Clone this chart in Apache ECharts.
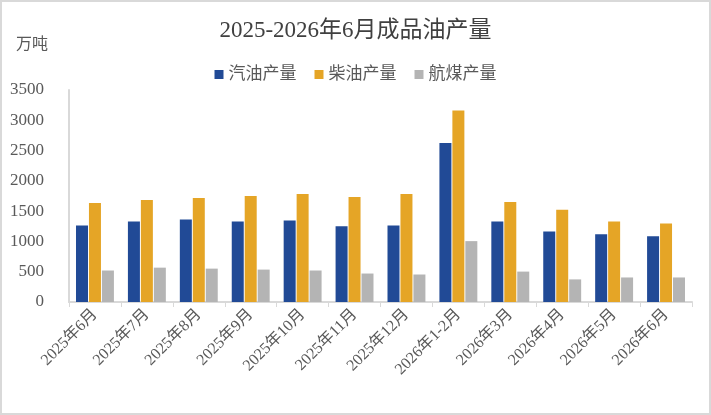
<!DOCTYPE html>
<html><head><meta charset="utf-8">
<script src="https://cdn.jsdelivr.net/npm/echarts@6/dist/echarts.min.js"></script>
<style>html,body{margin:0;padding:0;background:#fff}#c{width:711px;height:415px;box-sizing:border-box;border:2px solid #d9d9d9}</style>
</head><body><div id="c"></div>
<script>
const categories = ['2025年6月','2025年7月','2025年8月','2025年9月','2025年10月','2025年11月','2025年12月','2026年1-2月','2026年3月','2026年4月','2026年5月','2026年6月'];
const gasoline = [1265,1330,1360,1330,1345,1250,1265,2625,1330,1165,1120,1085];
const diesel = [1635,1685,1718,1750,1783,1735,1783,3160,1653,1523,1330,1297];
const jetFuel = [520,567,551,535,520,470,454,1005,502,373,405,405];
const seriesNames = ['汽油产量','柴油产量','航煤产量'];
const fontF = '"Liberation Serif","Noto Sans CJK SC",serif';
const chart = echarts.init(document.getElementById('c'));
chart.setOption({
  animation:false,
  title:{text:'2025-2026年6月成品油产量',left:'center',top:12,textStyle:{fontFamily:fontF,fontSize:23,fontWeight:'normal',color:'#404040'}},
  graphic:[{type:'text',left:14,top:33,style:{text:'万吨',font:'16px "Noto Sans CJK SC"',fill:'#595959'}}],
  legend:{top:59,left:'center',itemWidth:9,itemHeight:9,itemGap:18,icon:'rect',textStyle:{fontFamily:fontF,fontSize:17,color:'#595959'}},
  grid:{left:67,right:17,top:88,bottom:111},
  xAxis:{type:'category',data:categories,
    axisLine:{lineStyle:{color:'#d9d9d9',width:2}},
    axisTick:{show:true,lineStyle:{color:'#d9d9d9'},length:5},
    axisLabel:{rotate:45,interval:0,fontFamily:fontF,fontSize:16,color:'#595959',margin:10}},
  yAxis:{type:'value',min:0,max:3500,interval:500,
    axisLine:{show:true,lineStyle:{color:'#d9d9d9',width:2}},
    splitLine:{show:false},
    axisLabel:{fontFamily:fontF,fontSize:17,color:'#595959',margin:25,formatter:v=>String(v)}},
  series:[
    {name:seriesNames[0],type:'bar',data:gasoline,barWidth:12,barGap:'8%',itemStyle:{color:'#214A96'}},
    {name:seriesNames[1],type:'bar',data:diesel,barWidth:12,itemStyle:{color:'#E5A526'}},
    {name:seriesNames[2],type:'bar',data:jetFuel,barWidth:12,itemStyle:{color:'#B4B4B4'}}
  ]
});
</script></body></html>
